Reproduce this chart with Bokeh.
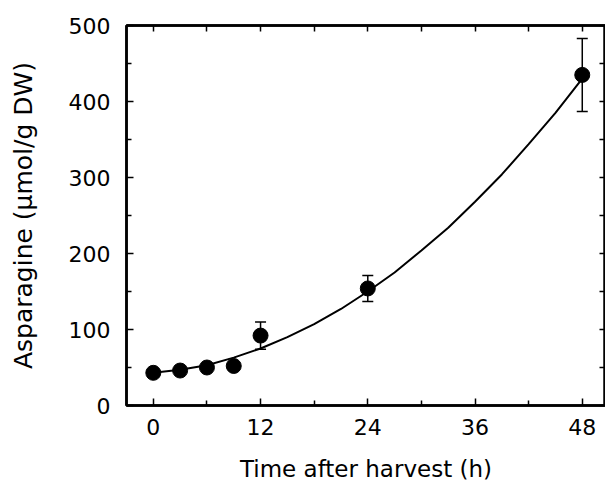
from bokeh.plotting import figure
from bokeh.models import (ColumnDataSource, Whisker, TeeHead, LinearAxis, FixedTicker, Range1d,
                          CustomJSTickFormatter)
from bokeh.embed import file_html
from bokeh.resources import INLINE

# data
time_h = [0, 3, 6, 9, 12, 24, 48]
asparagine = [43, 46, 50, 52, 92, 154, 435]
err = [0, 0, 0, 0, 18, 17, 48]

fit_x = [0, 3, 6, 9, 12, 15, 18, 21, 24, 27, 30, 33, 36, 39, 42, 45, 48]
fit_y = [43, 47, 53, 63, 75, 90, 107, 127, 150, 175, 204, 234, 268, 304, 344, 385, 430]

x_ticks = [0, 12, 24, 36, 48]
x_minor = [6, 18, 30, 42]
y_ticks = [0, 100, 200, 300, 400, 500]
y_minor = [50, 150, 250, 350, 450]

FONT = "DejaVu Sans"

p = figure(width=605, height=487, output_backend="svg", toolbar_location=None,
           x_range=Range1d(-3, 50.6), y_range=Range1d(0, 500),
           min_border_left=126, min_border_top=25, min_border_bottom=82, min_border_right=0,
           x_axis_label="Time after harvest (h)", y_axis_label="Asparagine (\u03bcmol/g DW)")
p.grid.visible = False
p.outline_line_color = "black"
p.outline_line_width = 2.5
p.background_fill_color = "white"
p.border_fill_color = "white"

for ax in (p.xaxis[0], p.yaxis[0]):
    ax.axis_line_width = 2.5
    ax.major_tick_in = 7
    ax.major_tick_out = 0
    ax.minor_tick_in = 5
    ax.minor_tick_out = 0
    ax.major_tick_line_width = 1.5
    ax.minor_tick_line_width = 1.5
    ax.major_label_text_font = FONT
    ax.major_label_text_font_size = "22px"
    ax.major_label_text_color = "black"
    ax.axis_label_text_font = FONT
    ax.axis_label_text_font_style = "normal"
    ax.axis_label_text_color = "black"

p.xaxis[0].axis_label_text_font_size = "23px"
p.yaxis[0].axis_label_text_font_size = "25px"
p.xaxis[0].ticker = FixedTicker(ticks=x_ticks, minor_ticks=x_minor)
p.yaxis[0].ticker = FixedTicker(ticks=y_ticks, minor_ticks=y_minor)
p.xaxis[0].major_label_standoff = 13
p.xaxis[0].axis_label_standoff = 18
p.yaxis[0].major_label_standoff = 16
p.yaxis[0].axis_label_standoff = 28

blank = CustomJSTickFormatter(code="return '';")
top = LinearAxis(ticker=FixedTicker(ticks=x_ticks + x_minor), formatter=blank,
                 major_tick_in=6, major_tick_out=0, major_tick_line_width=1.5, axis_line_width=2.5,
                 major_label_standoff=0)
p.add_layout(top, "above")
right = LinearAxis(ticker=FixedTicker(ticks=y_ticks + y_minor), formatter=blank,
                   major_tick_in=6, major_tick_out=0, major_tick_line_width=1.5, axis_line_width=2.5,
                   major_label_standoff=0)
p.add_layout(right, "right")

p.line(fit_x, fit_y, line_color="black", line_width=2)

lower = [a - e for a, e in zip(asparagine, err)]
upper = [a + e for a, e in zip(asparagine, err)]
src = ColumnDataSource(dict(x=time_h, y=asparagine, lower=lower, upper=upper))
wh = Whisker(base="x", lower="lower", upper="upper", source=src, line_color="black", line_width=1.5,
             upper_head=TeeHead(size=11, line_color="black", line_width=1.5),
             lower_head=TeeHead(size=11, line_color="black", line_width=1.5))
p.add_layout(wh)
p.scatter("x", "y", source=src, size=15, fill_color="black", line_color="black")

open("out.html", "w").write(file_html(p, INLINE))
